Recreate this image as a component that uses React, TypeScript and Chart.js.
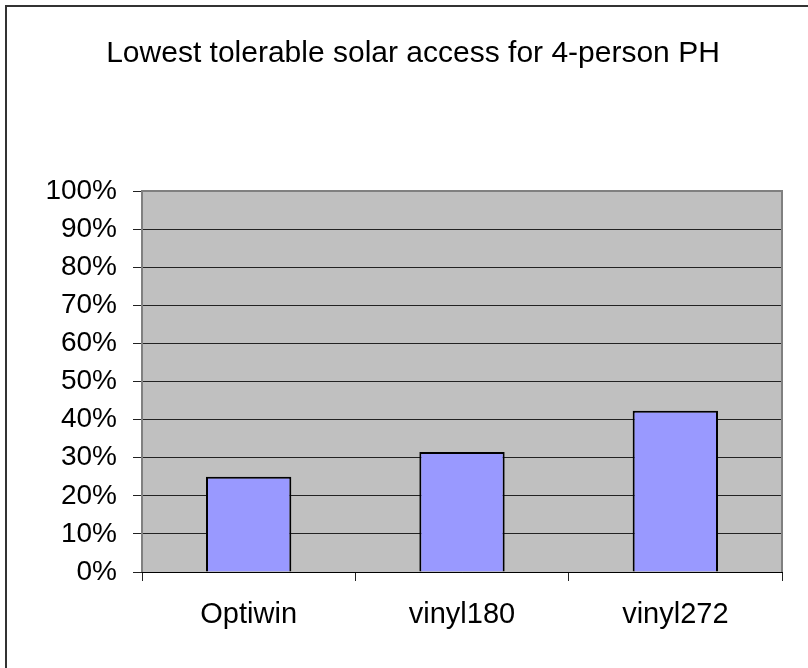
import React, { useEffect, useRef } from "react";
import { Chart, registerables } from "chart.js";

Chart.register(...registerables);

const categories = ["Optiwin", "vinyl180", "vinyl272"];
const values = [25, 31.5, 42.3];
const yTickValues = [0, 10, 20, 30, 40, 50, 60, 70, 80, 90, 100];
const titleText = "Lowest tolerable solar access for 4-person PH";

const FONT = "'Liberation Sans', Arial, Helvetica, sans-serif";

const plotBackground = {
  id: "plotBackground",
  beforeDraw(chart: any) {
    const { ctx, chartArea } = chart;
    ctx.save();
    ctx.fillStyle = "#ffffff";
    ctx.fillRect(0, 0, chart.width, chart.height);
    ctx.fillStyle = "#C0C0C0";
    ctx.fillRect(chartArea.left, chartArea.top, chartArea.right - chartArea.left, chartArea.bottom - chartArea.top);
    ctx.restore();
  },
  beforeDatasetsDraw(chart: any) {
    const { ctx, chartArea } = chart;
    ctx.save();
    ctx.strokeStyle = "#808080";
    ctx.lineWidth = 2;
    ctx.beginPath();
    ctx.moveTo(chartArea.left, chartArea.bottom);
    ctx.lineTo(chartArea.left, chartArea.top);
    ctx.lineTo(chartArea.right, chartArea.top);
    ctx.lineTo(chartArea.right, chartArea.bottom);
    ctx.stroke();
    ctx.restore();
  },
};

export default function App() {
  const ref = useRef<HTMLCanvasElement | null>(null);

  useEffect(() => {
    if (!ref.current) return;
    const chart = new Chart(ref.current, {
      type: "bar",
      data: {
        labels: categories,
        datasets: [
          {
            data: values,
            backgroundColor: "#9999FF",
            borderColor: "#000000",
            borderWidth: 2,
            barPercentage: 0.4,
            categoryPercentage: 1,
          },
        ],
      },
      options: {
        responsive: false,
        animation: false,
        devicePixelRatio: 1,
        layout: { padding: { left: 44, right: 26, top: 0, bottom: 0 } },
        plugins: {
          legend: { display: false },
          tooltip: { enabled: false },
          title: {
            display: true,
            text: titleText,
            color: "#000",
            font: { family: FONT, size: 30, weight: "normal" },
            padding: { top: 36, bottom: 119 },
          },
        },
        scales: {
          x: {
            grid: {
              display: true,
              drawOnChartArea: false,
              drawTicks: true,
              tickLength: 9,
              color: "#222",
              offset: true,
            },
            border: { display: true, color: "#000", width: 1 },
            ticks: {
              color: "#000",
              font: { family: FONT, size: 29 },
              padding: 17,
              maxRotation: 0,
            },
            afterFit: (s: any) => {
              s.height = 96;
            },
          },
          y: {
            min: 0,
            max: 100,
            afterBuildTicks: (s: any) => {
              s.ticks = yTickValues.map((v) => ({ value: v }));
            },
            grid: {
              display: true,
              drawOnChartArea: true,
              drawTicks: true,
              tickLength: 9,
              color: "#222",
            },
            border: { display: false },
            ticks: {
              color: "#000",
              font: { family: FONT, size: 28 },
              padding: 16,
              callback: (v: any) => v + "%",
            },
            afterFit: (s: any) => {
              s.width = 98;
            },
          },
        },
      },
      plugins: [plotBackground],
    });
    return () => chart.destroy();
  }, []);

  return (
    <div style={{ position: "absolute", left: 0, top: 0, width: 808, height: 668, background: "#fff" }}>
      <canvas ref={ref} width={808} height={668} style={{ display: "block" }} />
      <div
        style={{
          position: "absolute",
          left: 5,
          top: 5,
          width: 803,
          height: 663,
          borderTop: "2px solid #333",
          borderLeft: "2px solid #333",
          boxSizing: "border-box",
          pointerEvents: "none",
        }}
      />
    </div>
  );
}
